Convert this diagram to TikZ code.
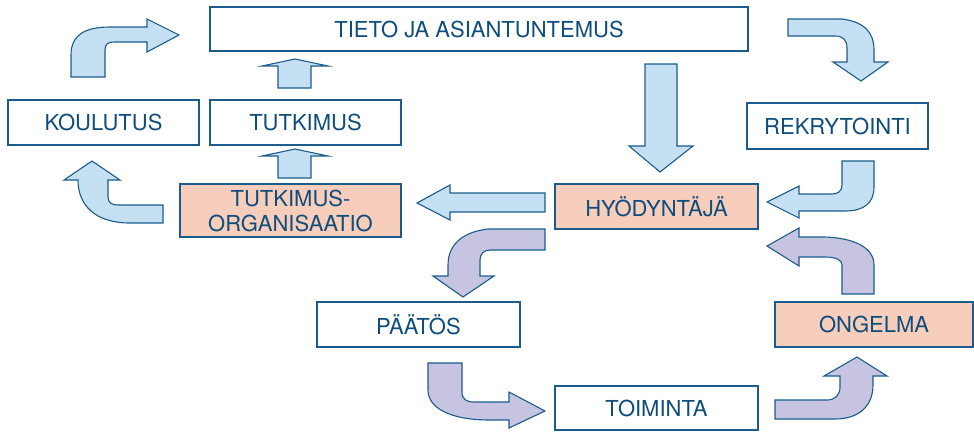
\documentclass[tikz,border=0pt]{standalone}
\usepackage{fontspec}
\setmainfont{TeX Gyre Heros}
\definecolor{lineblue}{HTML}{1B5C8A}
\definecolor{textblue}{HTML}{0F4E7C}
\definecolor{fillblue}{HTML}{C5E0F2}
\definecolor{fillpurple}{HTML}{C6C4E0}
\definecolor{fillsalmon}{HTML}{F7CDBC}
\tikzset{
  box/.style={draw=lineblue, line width=1.4pt, fill=white, inner sep=0pt, outer sep=0pt,
    text=textblue, font=\fontsize{22}{25}\selectfont, align=center},
  hlbox/.style={box, fill=fillsalmon},
  barrow/.style={draw=lineblue, line width=1.1pt, fill=fillblue, line join=miter},
  parrow/.style={draw=lineblue, line width=1.1pt, fill=fillpurple, line join=miter}
}
\begin{document}
\begin{tikzpicture}[x=1pt,y=-1pt]
\useasboundingbox (0,0) rectangle (974,432);
% boxes
\node[box, minimum width=538pt, minimum height=44pt] (tieto) at (479,29) {TIETO JA ASIANTUNTEMUS};
\node[box, minimum width=191pt, minimum height=45pt] (koulutus) at (103.5,122.5) {KOULUTUS};
\node[box, minimum width=191pt, minimum height=45pt] (tutkimus) at (305.5,122.5) {TUTKIMUS};
\node[hlbox, minimum width=221pt, minimum height=53pt] (torg) at (290.5,210.5) {TUTKIMUS-\\ORGANISAATIO};
\node[hlbox, minimum width=203pt, minimum height=45pt] (hyod) at (656.5,206.5) {HYÖDYNTÄJÄ};
\node[box, minimum width=181pt, minimum height=46pt] (rekry) at (837.5,126) {REKRYTOINTI};
\node[box, minimum width=203pt, minimum height=45pt] (paatos) at (418.5,324.5) {PÄÄTÖS};
\node[box, minimum width=203pt, minimum height=44pt] (toiminta) at (656.5,408) {TOIMINTA};
\node[hlbox, minimum width=198pt, minimum height=45pt] (ongelma) at (874,324.5) {ONGELMA};
% blue arrows
\draw[barrow] (645,64) -- (677,64) -- (677,146) -- (693,146) -- (660,172) -- (629,146) -- (645,146) -- cycle;
\draw[barrow] (278,88) -- (278,66) -- (262,66) -- (295,59) -- (328,66) -- (311,66) -- (311,88) -- cycle;
\draw[barrow] (278,178) -- (278,156) -- (262,156) -- (295,149) -- (328,156) -- (311,156) -- (311,178) -- cycle;
\draw[barrow] (545,193) -- (450,193) -- (450,185) -- (417,203) -- (450,220) -- (450,212) -- (545,212) -- cycle;
\draw[barrow] (71,77) -- (71,55) .. controls (71,35) and (85,27) .. (110,27) -- (147,27) -- (147,19) -- (179,35) -- (147,52) -- (147,42) -- (114,42) .. controls (108,42) and (105,44) .. (105,50) -- (105,77) -- cycle;
\draw[barrow] (163,205) -- (118,205) .. controls (112,205) and (108,203) .. (108,197) -- (108,180) -- (120,180) -- (92,161) -- (64,180) -- (78,180) .. controls (78,205) and (95,223) .. (130,223) -- (163,223) -- cycle;
\draw[barrow] (788,19) -- (842,19) .. controls (865,22) and (874,33) .. (874,50) -- (874,62) -- (888,62) -- (861,81) -- (833,62) -- (847,62) -- (847,48) .. controls (847,40) and (843,36) .. (835,36) -- (788,36) -- cycle;
\draw[barrow] (842,161) -- (842,185) .. controls (842,191) and (838,194) .. (832,194) -- (799,194) -- (799,186) -- (767,202) -- (799,218) -- (799,211) -- (845,211) .. controls (864,211) and (874,203) .. (874,187) -- (874,161) -- cycle;
% purple arrows
\draw[parrow] (545,229) -- (488,229) .. controls (462,232) and (448,245) .. (448,265) -- (448,276) -- (433,276) -- (463,297) -- (494,276) -- (480,276) -- (480,260) .. controls (480,254) and (484,250) .. (490,250) -- (545,250) -- cycle;
\draw[parrow] (428,363) -- (462,363) -- (462,392) .. controls (462,399) and (466,402) .. (474,402) -- (509,402) -- (509,392) -- (545,411) -- (509,428) -- (509,420) -- (490,420) .. controls (450,420) and (428,408) .. (428,390) -- cycle;
\draw[parrow] (775,400) -- (827,400) .. controls (835,400) and (840,395) .. (840,387) -- (840,376) -- (824,376) -- (857,357) -- (887,376) -- (873,376) -- (873,385) .. controls (873,405) and (860,419) .. (835,419) -- (775,419) -- cycle;
\draw[parrow] (842,294) -- (842,265) .. controls (842,260) and (836,257) .. (825,257) -- (799,257) -- (799,266) -- (767,246) -- (799,228) -- (799,237) -- (825,237) .. controls (855,238) and (874,248) .. (874,265) -- (874,294) -- cycle;
\end{tikzpicture}
\end{document}
